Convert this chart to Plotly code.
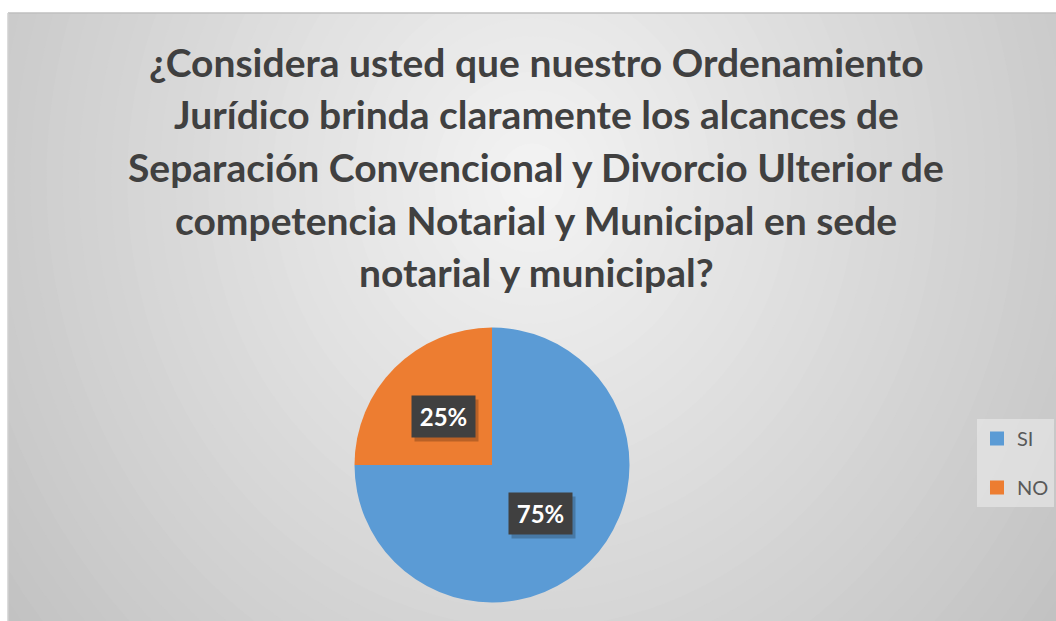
import numpy as np
import plotly.graph_objects as go

# Data -------------------------------------------------------------------------
title_lines = [
    "¿Considera usted que nuestro Ordenamiento",
    "Jurídico brinda claramente los alcances de",
    "Separación Convencional y Divorcio Ulterior de",
    "competencia Notarial y Municipal en sede",
    "notarial y municipal?",
]
labels = ["SI", "NO"]
values = [75, 25]
colors = ["#5B9BD5", "#ED7D31"]

# Parameters -------------------------------------------------------------------
W, H = 1056, 621
font_family = "Lato, 'Open Sans', sans-serif"
title_colour = "#404040"
legend_colour = "#595959"

def px_x(x):
    return x / W

def px_y(y):
    return 1 - y / H

# pie geometry (pixels)
pie_cx, pie_cy, pie_r = 492, 465, 137.5

fig = go.Figure()

fig.add_trace(go.Pie(
    labels=labels, values=values,
    marker=dict(colors=colors, line=dict(width=0)),
    sort=False, direction="clockwise", rotation=0,
    textinfo="none", hoverinfo="label+percent",
    showlegend=False,
    domain=dict(x=[px_x(pie_cx - pie_r), px_x(pie_cx + pie_r)],
                y=[px_y(pie_cy + pie_r), px_y(pie_cy - pie_r)]),
))

# legend entries (dummy traces so the spacing can be controlled)
for i, (lab, col) in enumerate(zip(labels, colors)):
    fig.add_trace(go.Scatter(
        x=[None], y=[None], mode="markers", name=lab,
        marker=dict(symbol="square", size=14, color=col),
        legendgroup="g%d" % i, showlegend=True,
    ))

# Background gradient ----------------------------------------------------------
shapes = []
gcx, gcy, grx, gry = 532, 180, 560, 620
for d in np.linspace(1.3, 0.03, 45):
    c = int(round(244 - 42 * min(d, 1.2)))
    shapes.append(dict(
        type="circle", xref="paper", yref="paper", layer="below",
        x0=px_x(gcx - d * grx), x1=px_x(gcx + d * grx),
        y0=px_y(gcy + d * gry), y1=px_y(gcy - d * gry),
        fillcolor="rgb(%d,%d,%d)" % (c, c, c), line=dict(width=0),
    ))
# white outside the chart area
shapes.append(dict(type="rect", xref="paper", yref="paper", layer="below",
                   x0=0, x1=1, y0=px_y(13), y1=1.01,
                   fillcolor="white", line=dict(width=0)))
shapes.append(dict(type="rect", xref="paper", yref="paper", layer="below",
                   x0=-0.01, x1=px_x(8), y0=-0.01, y1=1.01,
                   fillcolor="white", line=dict(width=0)))
# chart border
shapes.append(dict(type="line", xref="paper", yref="paper", layer="below",
                   x0=px_x(8), x1=1, y0=px_y(13), y1=px_y(13),
                   line=dict(color="#BFBFBF", width=1.5)))
shapes.append(dict(type="line", xref="paper", yref="paper", layer="below",
                   x0=px_x(8), x1=px_x(8), y0=0, y1=px_y(13),
                   line=dict(color="#D0D0D0", width=1.5)))

# Annotations ------------------------------------------------------------------
annotations = []
title_y = [62, 114, 167, 220, 272]
for line, y in zip(title_lines, title_y):
    annotations.append(dict(
        text="<b>%s</b>" % line, xref="paper", yref="paper",
        x=px_x(536), y=px_y(y), xanchor="center", yanchor="middle",
        showarrow=False,
        font=dict(family=font_family, size=39, color=title_colour),
    ))

# percentage labels placed at half radius along each slice's mid angle
total = sum(values)
start = 0.0
for v in values:
    mid = np.radians((start + v / 2) / total * 360)
    start += v
    lx = pie_cx + 0.5 * pie_r * np.sin(mid)
    ly = pie_cy - 0.5 * pie_r * np.cos(mid)
    txt = "<b>%d%%</b>" % round(100 * v / total)
    # shadow box (no text)
    annotations.append(dict(
        text=" ", xref="paper", yref="paper",
        x=px_x(lx + 3), y=px_y(ly + 4), showarrow=False,
        xanchor="center", yanchor="middle",
        width=53, height=31, borderpad=5,
        bgcolor="rgba(0,0,0,0.22)",
        font=dict(family=font_family, size=24),
    ))
    annotations.append(dict(
        text=txt, xref="paper", yref="paper",
        x=px_x(lx), y=px_y(ly), showarrow=False,
        xanchor="center", yanchor="middle",
        width=53, height=31, borderpad=5,
        bgcolor="#404040",
        font=dict(family=font_family, size=24, color="white"),
    ))

fig.update_layout(
    width=W, height=H,
    margin=dict(l=0, r=0, t=0, b=0),
    paper_bgcolor="white",
    plot_bgcolor="rgba(0,0,0,0)",
    xaxis=dict(visible=False),
    yaxis=dict(visible=False),
    shapes=shapes,
    annotations=annotations,
    legend=dict(
        x=px_x(977), y=px_y(419), xanchor="left", yanchor="top",
        bgcolor="rgba(238,238,238,0.55)",
        font=dict(family=font_family, size=20, color=legend_colour),
        tracegroupgap=20, itemwidth=30,
    ),
)

# drop the browser's default page margin so the figure sits at the corner
fig.write_html("out.html",
               config={"displayModeBar": False},
               post_script="document.body.style.margin='0px';")
